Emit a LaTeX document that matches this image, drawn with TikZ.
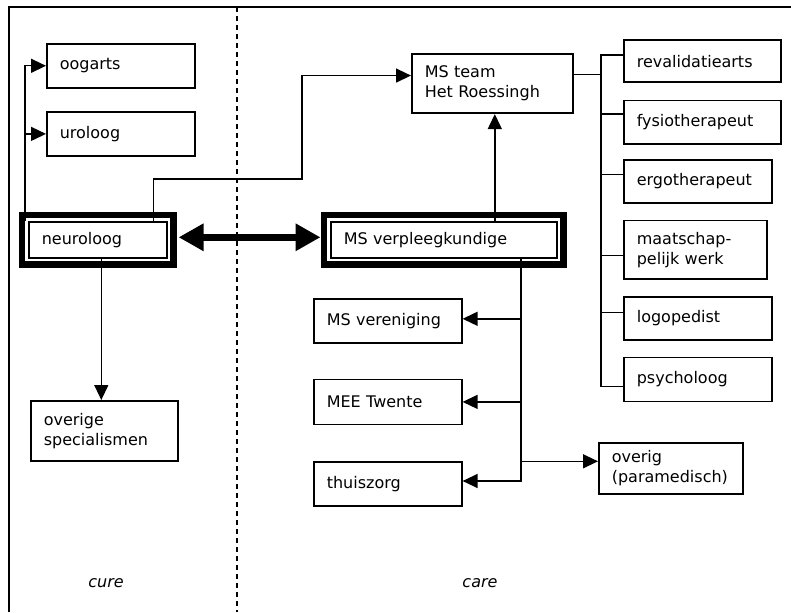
\documentclass[tikz,border=0pt]{standalone}
\usepackage{fontspec}
\setmainfont{DejaVu Sans}
\usepackage{tikz}
\usetikzlibrary{arrows.meta, positioning}
\tikzset{
  box/.style={rectangle, draw=black, line width=1.6pt, anchor=north west,
    align=left, inner xsep=13pt, inner ysep=0pt, text width=122pt,
    minimum height=44pt, font=\fontsize{16}{20}\selectfont},
  keyframe/.style={line width=6.5pt},
  arrow/.style={-{Triangle[length=15pt,width=14pt]}, line width=1.4pt},
  bigarrow/.style={{Triangle[length=25pt,width=26pt]}-{Triangle[length=25pt,width=26pt]}, line width=7pt},
  line/.style={line width=1.4pt},
  divider/.style={line width=1.4pt, dash pattern=on 5pt off 4pt},
  region/.style={font=\fontsize{16}{20}\selectfont\itshape}
}

\begin{document}
\begin{tikzpicture}[x=1pt, y=-1pt]
  \useasboundingbox (0,0) rectangle (791,612);
  \draw[line] (9,612) -- (9,7) -- (791,7);
  \draw[divider] (237,7) -- (237,612);
  \node[region] (cure) at (106,583) {cure};
  \node[region] (care) at (480,583) {care};

  \node[box] (oog) at (46,43) {oogarts};
  \node[box, below right=22.5pt and 0pt of oog.south west] (uro) {uroloog};
  \node[box, text width=112pt, minimum height=36pt] (neu) at (28,221) {neuroloog};
  \node[box, text width=121pt, minimum height=60pt] (ovs) at (30,400) {overige\\specialismen};

  \node[box, text width=200pt, minimum height=36pt] (msv) at (330,221) {MS verpleegkundige};
  \node[box, text width=135pt, minimum height=59.5pt] (team) at (411,53) {MS team\\Het Roessingh};
  \node[box, text width=131pt, minimum height=42.5pt] (rev) at (623,39) {revalidatiearts};
  \node[box, text width=131pt, minimum height=43.5pt, below right=16.5pt and 0pt of rev.south west] (fys) {fysiotherapeut};
  \node[box, minimum height=43pt, below right=14.5pt and 0pt of fys.south west] (erg) {ergotherapeut};
  \node[box, text width=117pt, minimum height=58.5pt, below right=16pt and 0pt of erg.south west] (maa) {maatschap-\\pelijk werk};
  \node[box, minimum height=43pt, below right=16pt and 0pt of maa.south west] (log) {logopedist};
  \node[box, below right=16pt and 0pt of log.south west] (psy) {psycholoog};
  \node[box] (msvv) at (313,298) {MS vereniging};
  \node[box, minimum height=45pt, below right=35pt and 0pt of msvv.south west] (mee) {MEE Twente};
  \node[box, below right=36pt and 0pt of mee.south west] (thu) {thuiszorg};
  \node[box, text width=118pt, minimum height=51pt] (ovp) at (598,442) {overig\\(paramedisch)};

  \draw[keyframe] ([shift={(-6pt,6pt)}]neu.north west) rectangle ([shift={(6pt,-6pt)}]neu.south east);
  \draw[keyframe] ([shift={(-6pt,6pt)}]msv.north west) rectangle ([shift={(6pt,-6pt)}]msv.south east);

  \coordinate (bend) at (302,179);
  \coordinate (trunk) at (601,0);
  \coordinate (split) at ([xshift=77pt]msv.south);

  \draw[bigarrow] ([shift={(11pt,2.5pt)}]neu.east) -- ([shift={(-9.5pt,2.5pt)}]msv.west);
  \draw[arrow] ([xshift=-3pt]neu.north west) |- (oog.west);
  \draw[arrow] ([xshift=-3pt]neu.north west) |- (uro.west);
  \draw[arrow] ([xshift=3.5pt]neu.south) -- ([xshift=-3pt]ovs.north);
  \draw[arrow] ([xshift=-14pt]neu.north east) |- (bend) |- ([yshift=8pt]team.west);
  \draw[arrow] ([xshift=51pt]msv.north) -- ([xshift=2.5pt]team.south);

  \draw[line] ([yshift=9pt]team.east) -- ([yshift=9pt]team.east -| trunk);
  \draw[line] ([yshift=6pt]rev.west) -| ([yshift=-7pt]psy.west -| trunk) -- ([yshift=-7pt]psy.west);
  \draw[line] ([yshift=8pt]fys.west -| trunk) -- ([yshift=8pt]fys.west);
  \draw[line] ([yshift=7pt]erg.west -| trunk) -- ([yshift=7pt]erg.west);
  \draw[line] ([yshift=-5.5pt]maa.west -| trunk) -- ([yshift=-5.5pt]maa.west);
  \draw[line] ([yshift=6pt]log.west -| trunk) -- ([yshift=6pt]log.west);

  \draw[arrow] (split) |- ([yshift=3pt]thu.east);
  \draw[arrow] ([yshift=2pt]msvv.east -| split) -- ([yshift=2pt]msvv.east);
  \draw[arrow] (mee.east -| split) -- (mee.east);
  \draw[arrow] ([yshift=7pt]ovp.west -| split) -- ([yshift=7pt]ovp.west);
\end{tikzpicture}
\end{document}
